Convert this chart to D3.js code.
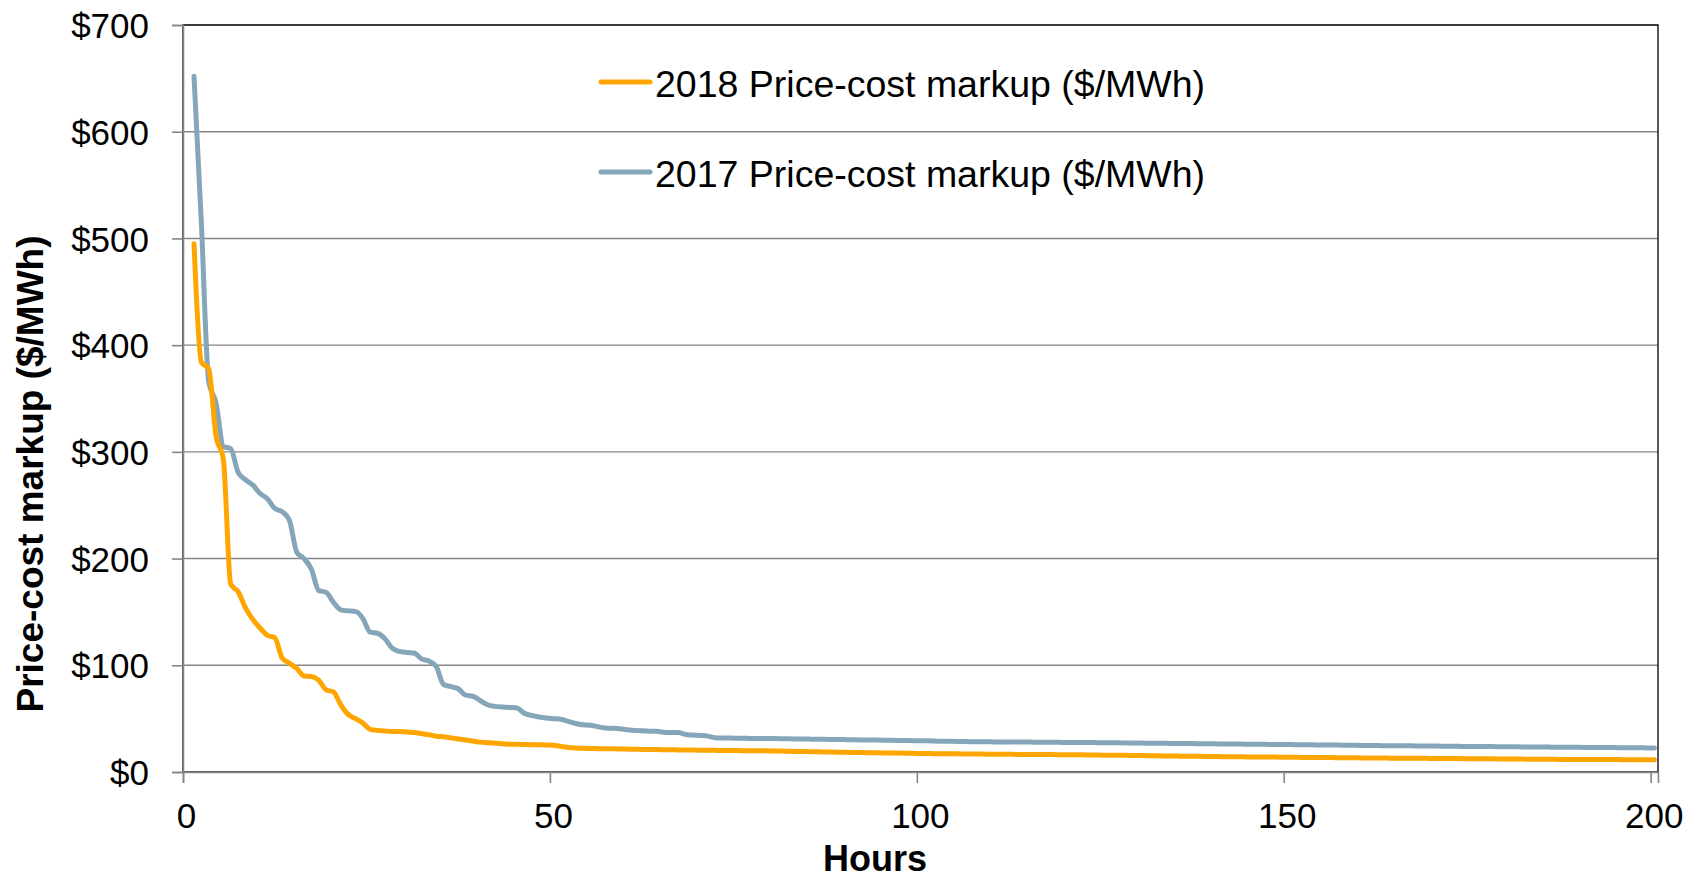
<!DOCTYPE html>
<html lang="en">
<head>
<meta charset="UTF-8">
<title>Price-cost markup</title>
<script src="https://d3js.org/d3.v7.min.js"></script>
<style>
  body { margin: 0; background: #fff; }
  svg { display: block; font-family: "Liberation Sans", Arial, sans-serif; }
</style>
</head>
<body>
<svg id="chart" width="1702" height="880"></svg>
<script>
  // hourly values, sorted high to low (hour 1 .. 200)
  const markup2018 = [
    495, 384, 378, 315, 293, 176, 169, 154, 143, 135,
    128, 126, 107, 102, 97, 90, 89.5, 86, 77, 75,
    63, 54, 50, 46, 40, 39, 38.5, 38, 38, 37.5,
    37, 36, 35, 33.5, 33, 32, 31, 30, 29, 28,
    27.5, 27, 26.5, 26, 26, 25.8, 25.6, 25.5, 25.3, 25,
    24, 23, 22.5, 22.2, 22, 21.9, 21.8, 21.7, 21.6, 21.5,
    21.3, 21.2, 21.1, 21, 20.9, 20.8, 20.7, 20.6, 20.5, 20.4,
    20.3, 20.3, 20.2, 20.2, 20.1, 20, 19.9, 19.9, 19.8, 19.7,
    19.6, 19.4, 19.3, 19.2, 19, 18.9, 18.8, 18.7, 18.5, 18.4,
    18.3, 18.2, 18.1, 18, 17.9, 17.8, 17.7, 17.6, 17.5, 17.4,
    17.3, 17.2, 17.2, 17.1, 17, 16.9, 16.9, 16.8, 16.7, 16.7,
    16.6, 16.6, 16.5, 16.5, 16.4, 16.4, 16.3, 16.3, 16.2, 16.2,
    16.1, 16.1, 16, 15.9, 15.8, 15.7, 15.6, 15.6, 15.5, 15.4,
    15.3, 15.2, 15.1, 15, 14.9, 14.8, 14.8, 14.7, 14.6, 14.5,
    14.4, 14.4, 14.3, 14.2, 14.1, 14.1, 14, 14, 13.9, 13.9,
    13.8, 13.7, 13.7, 13.6, 13.5, 13.5, 13.4, 13.3, 13.3, 13.2,
    13.2, 13.1, 13.1, 13, 13, 12.9, 12.9, 12.8, 12.8, 12.7,
    12.7, 12.6, 12.6, 12.5, 12.4, 12.4, 12.3, 12.3, 12.2, 12.2,
    12.1, 12.1, 12, 12, 11.9, 11.9, 11.8, 11.8, 11.8, 11.7,
    11.7, 11.7, 11.6, 11.6, 11.6, 11.5, 11.5, 11.5, 11.4, 11.4
  ];
  const markup2017 = [
    652, 515, 366, 346, 305, 303, 281, 274, 269, 261,
    256, 247, 244, 236, 206, 200, 190, 170, 168.5, 159,
    152, 151, 150.5, 144, 131, 130, 125, 116, 113, 112,
    111.5, 106, 104, 99, 82, 80, 78, 72, 71, 67,
    63, 61.5, 61, 60.5, 60, 55, 53, 51.5, 50.5, 50,
    49.5, 47.5, 45.5, 44.2, 43.8, 42.5, 41.3, 41, 40.5, 39.5,
    39, 38.6, 38.3, 38.1, 37.3, 37, 36.9, 35.2, 34.6, 34.2,
    33.6, 32.2, 31.9, 31.8, 31.7, 31.6, 31.5, 31.5, 31.4, 31.3,
    31.2, 31.1, 31, 30.9, 30.8, 30.7, 30.6, 30.5, 30.4, 30.3,
    30.2, 30.1, 30, 29.9, 29.8, 29.7, 29.6, 29.5, 29.4, 29.3,
    29.2, 29, 28.8, 28.7, 28.6, 28.5, 28.4, 28.3, 28.3, 28.2,
    28.2, 28.1, 28.1, 28, 28, 27.9, 27.9, 27.8, 27.8, 27.7,
    27.7, 27.6, 27.6, 27.5, 27.4, 27.3, 27.3, 27.2, 27.1, 27.1,
    27, 26.9, 26.9, 26.8, 26.7, 26.6, 26.6, 26.5, 26.4, 26.4,
    26.3, 26.2, 26.2, 26.1, 26, 26, 25.9, 25.8, 25.8, 25.7,
    25.6, 25.6, 25.5, 25.4, 25.4, 25.3, 25.2, 25.1, 25, 24.9,
    24.9, 24.8, 24.7, 24.7, 24.6, 24.5, 24.5, 24.4, 24.4, 24.3,
    24.2, 24.2, 24.1, 24, 24, 23.9, 23.8, 23.8, 23.7, 23.7,
    23.6, 23.5, 23.5, 23.4, 23.4, 23.3, 23.2, 23.2, 23.1, 23.1,
    23, 23, 22.9, 22.9, 22.8, 22.8, 22.7, 22.7, 22.6, 22.6
  ];
  const hours = markup2018.map((d, i) => i + 1);

  const xTicks = [0, 50, 100, 150, 200];
  const yTicks = [0, 100, 200, 300, 400, 500, 600, 700];

  const series = [
    { name: "2018 Price-cost markup ($/MWh)", values: markup2018, color: "#ffa500" },
    { name: "2017 Price-cost markup ($/MWh)", values: markup2017, color: "#85a6b9" }
  ];

  const plotLeft = 183, plotRight = 1658, plotTop = 25, plotBottom = 772;
  const grid = "#868686";

  const svg = d3.select("#chart");
  const x = d3.scaleLinear().domain([0, 201]).range([plotLeft, plotRight]);
  const y = d3.scaleLinear().domain([0, 700]).range([plotBottom, plotTop]);

  // gridlines
  svg.append("g")
    .selectAll("line")
    .data(yTicks.slice(1))
    .join("line")
    .attr("x1", plotLeft).attr("x2", plotRight)
    .attr("y1", d => y(d)).attr("y2", d => y(d))
    .attr("stroke", grid).attr("stroke-width", 1.4);

  // plot frame
  svg.append("rect")
    .attr("x", plotLeft).attr("y", plotTop)
    .attr("width", plotRight - plotLeft).attr("height", plotBottom - plotTop)
    .attr("fill", "none").attr("stroke", "#111").attr("stroke-width", 1.4);

  // y axis
  const yAxis = svg.append("g")
    .attr("transform", `translate(${plotLeft},0)`)
    .call(d3.axisLeft(y).tickValues(yTicks).tickSize(11).tickPadding(23)
      .tickFormat(d => "$" + d));
  // x axis
  const xAxis = svg.append("g")
    .attr("transform", `translate(0,${plotBottom})`)
    .call(d3.axisBottom(x).tickValues(xTicks).tickSize(11).tickPadding(20));

  [yAxis, xAxis].forEach(ax => {
    ax.select(".domain").attr("stroke", grid).attr("stroke-width", 1.6);
    ax.selectAll(".tick line").attr("stroke", grid).attr("stroke-width", 1.6);
    ax.selectAll("text").attr("font-size", 35).attr("fill", "#000")
      .attr("font-family", "Liberation Sans, Arial, sans-serif");
  });
  yAxis.selectAll(".tick text").attr("dy", "0.36em");
  xAxis.selectAll(".tick text").attr("dx", 3);

  // lines
  const line = d3.line()
    .x((d, i) => x(hours[i] + 0.5))
    .y(d => y(d))
    .curve(d3.curveMonotoneX);

  svg.append("g")
    .selectAll("path")
    .data(series.slice().reverse())
    .join("path")
    .attr("d", d => line(d.values))
    .attr("fill", "none")
    .attr("stroke", d => d.color)
    .attr("stroke-width", 5)
    .attr("stroke-linejoin", "round")
    .attr("stroke-linecap", "round");

  // legend
  const legend = svg.append("g")
    .selectAll("g")
    .data(series)
    .join("g")
    .attr("transform", (d, i) => `translate(601,${82 + i * 90})`);
  legend.append("line")
    .attr("x1", 0).attr("x2", 49)
    .attr("stroke", d => d.color).attr("stroke-width", 5)
    .attr("stroke-linecap", "round");
  legend.append("text")
    .attr("x", 54).attr("y", 15)
    .attr("font-size", 37)
    .attr("textLength", 550)
    .attr("lengthAdjust", "spacingAndGlyphs")
    .text(d => d.name);

  // axis titles
  svg.append("text")
    .attr("transform", "translate(43,474) rotate(-90)")
    .attr("text-anchor", "middle")
    .attr("font-size", 37)
    .attr("font-weight", "bold")
    .text("Price-cost markup ($/MWh)");

  svg.append("text")
    .attr("x", 875).attr("y", 871)
    .attr("text-anchor", "middle")
    .attr("font-size", 36)
    .attr("font-weight", "bold")
    .text("Hours");
</script>
</body>
</html>
